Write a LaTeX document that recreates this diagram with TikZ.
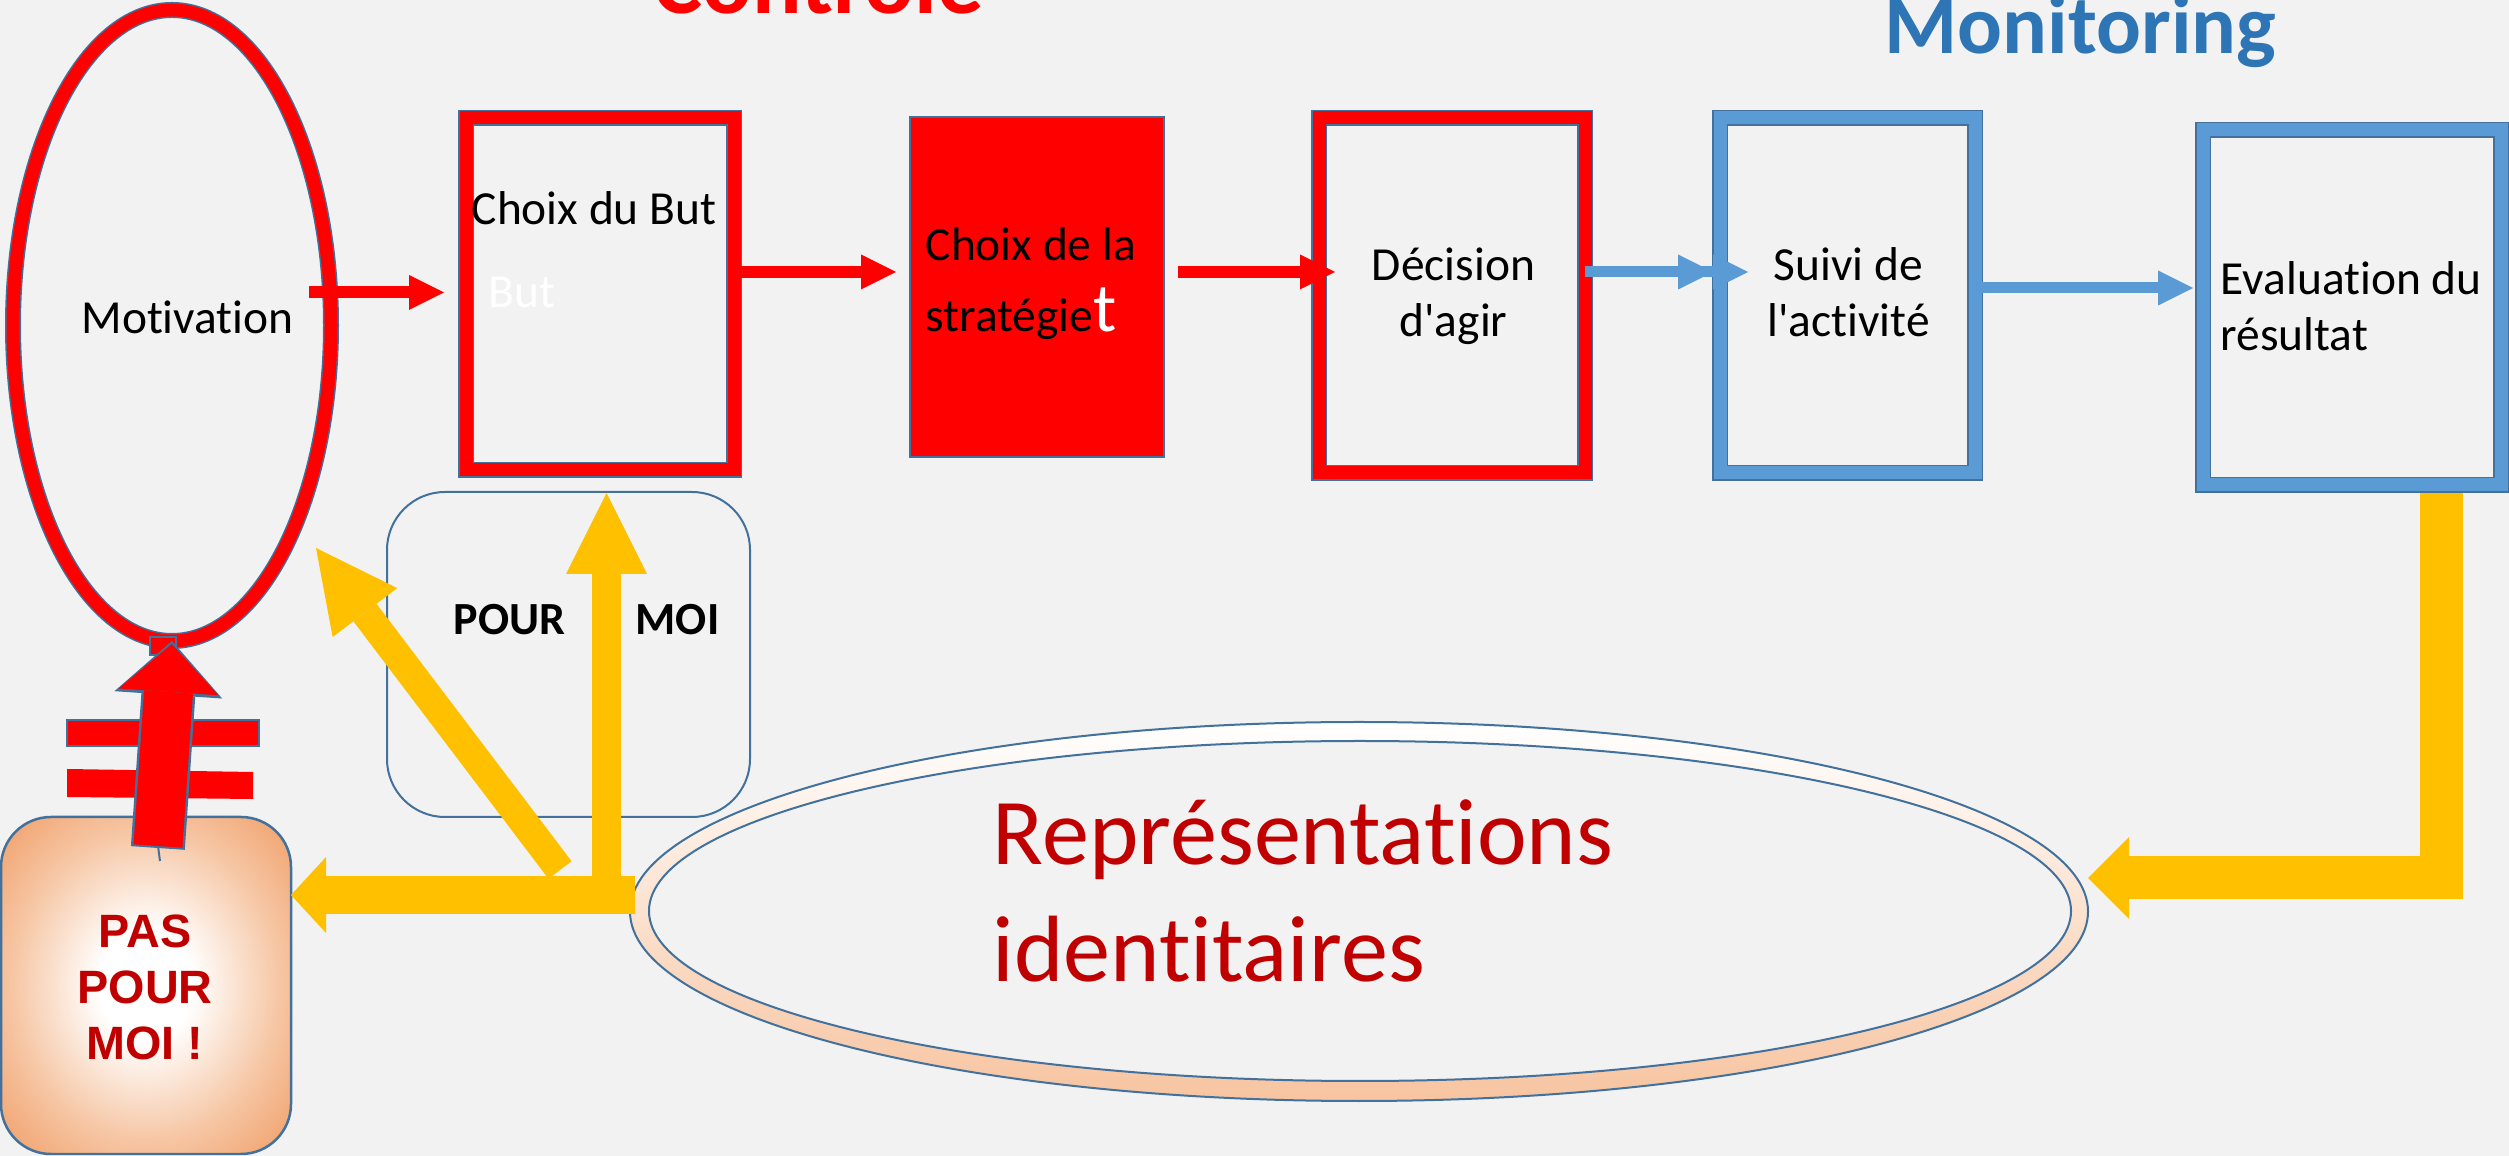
\documentclass[tikz,border=0pt]{standalone}
\usepackage{fontspec}
\setmainfont{Carlito}[Ligatures={TeXOff,NoCommon}]
\newfontfamily\pasfont{Liberation Sans}
\usetikzlibrary{positioning,shapes.geometric,arrows.meta}

\definecolor{bgcol}{HTML}{F2F2F2}
\definecolor{edgeblue}{HTML}{41719C}
\definecolor{bandblue}{HTML}{5B9BD5}
\definecolor{titleblue}{HTML}{2E75B6}
\definecolor{gold}{HTML}{FFC000}
\definecolor{darkred}{HTML}{C00000}
\definecolor{peach}{HTML}{F7C4A0}
\definecolor{peachlight}{HTML}{F6C6A4}
\definecolor{peachmid}{HTML}{F1A26E}
\definecolor{orangeedge}{HTML}{EE8F4F}
\pgfdeclareradialshading{pasglow}{\pgfpoint{0bp}{0bp}}{color(0bp)=(white);
  color(8bp)=(white); color(23bp)=(peachlight); color(34bp)=(peachmid);
  color(43bp)=(orangeedge); color(72bp)=(orangeedge)}

\begin{document}
\begin{tikzpicture}[
  redframe/.style={rectangle,draw=edgeblue,line width=0.015cm,double=red,
    double distance=0.13cm,inner sep=0pt,outer sep=0pt},
  blueframe/.style={redframe,double=bandblue},
  boxtext/.style={inner sep=0pt,font=\fontsize{13.5}{16.2}\selectfont},
  redarrow/.style={draw=red,line width=0.12cm,
    -{Triangle[length=0.35cm,width=0.35cm,line width=0pt]}},
  bluearrow/.style={draw=bandblue,line width=0.11cm,
    -{Triangle[length=0.35cm,width=0.35cm,line width=0pt]}},
  goldarrow/.style={draw=gold,line width=0.29cm,
    -{Triangle[length=0.81cm,width=0.81cm,line width=0pt]}}
]
  \useasboundingbox (0,0) rectangle (25.09,-11.56);
  \fill[bgcol] (0,0) rectangle (25.09,-11.56);

  % boxes
  \node[redframe,ellipse,minimum width=3.18cm,minimum height=6.31cm] (motiv)
    at (1.72,-3.255) {};
  \node[redframe,minimum width=2.68cm,minimum height=3.52cm] (choixbut)
    at (6.00,-2.94) {};
  \node[rectangle,draw=edgeblue,line width=0.02cm,fill=red,inner sep=0pt,
    outer sep=0pt,minimum width=2.54cm,minimum height=3.40cm] (strat)
    at (10.37,-2.87) {};
  \node[redframe,minimum width=2.66cm,minimum height=3.55cm] (decision)
    at (14.52,-2.955) {};
  \node[blueframe,minimum width=2.55cm,minimum height=3.55cm] (suivi)
    at (18.475,-2.955) {};
  \node[blueframe,minimum width=2.98cm,minimum height=3.55cm] (evalres)
    at (23.52,-3.075) {};

  \node[ellipse,draw=edgeblue,line width=0.02cm,top color=white,
    bottom color=peach,inner sep=0pt,outer sep=0pt,minimum width=14.58cm,
    minimum height=3.79cm] (repr) at (13.59,-9.115) {};
  \node[ellipse,draw=edgeblue,line width=0.02cm,fill=bgcol,inner sep=0pt,
    minimum width=14.22cm,minimum height=3.40cm] (reprin) at (13.60,-9.11) {};

  \node[rectangle,rounded corners=0.58cm,draw=edgeblue,line width=0.02cm,
    inner sep=0pt,outer sep=0pt,minimum width=3.63cm,minimum height=3.25cm]
    (pourmoi) at (5.685,-6.545) {};
  \node[rectangle,rounded corners=0.5cm,draw=edgeblue,line width=0.025cm,
    shading=pasglow,inner sep=0pt,outer sep=0pt,
    minimum width=2.90cm,minimum height=3.37cm] (pasmoi) at (1.46,-9.855) {};

  % arrows
  \draw[redarrow] ([shift={(-0.22,0.33)}]motiv.east)
    -- ([shift={(-0.22,0.33)}]motiv.east -| choixbut.west);
  \draw[redarrow,shorten >=0.14cm] ([yshift=0.22cm]choixbut.east)
    -- ([yshift=0.22cm]choixbut.east -| strat.west);
  \draw[redarrow,shorten <=0.14cm,shorten >=-0.16cm] ([yshift=0.15cm]strat.east)
    -- ([yshift=0.15cm]strat.east -| decision.west);
  \draw[bluearrow,shorten >=-0.28cm,
    -{Triangle[length=0.35cm,width=0.35cm,line width=0pt]
      Triangle[length=0.35cm,width=0.35cm,line width=0pt]}]
    ([yshift=0.235cm]decision.east) -- ([yshift=0.235cm]decision.east -| suivi.west);
  \draw[bluearrow,shorten >=0.10cm] ([yshift=0.075cm]suivi.east)
    -- ([yshift=0.075cm]suivi.east -| evalres.west);

  \coordinate (junc) at (6.065,-8.95);
  \coordinate (diagfoot) at (5.60,-8.70);
  \coordinate (diagtip) at (3.16,-5.48);
  \coordinate (evalfoot) at (24.41,-4.93);
  \draw[goldarrow,line width=0.38cm,
    -{Triangle[length=0.35cm,width=0.76cm,line width=0pt]}]
    ([xshift=0.05cm]junc -| repr.west) -- (junc -| pasmoi.east);
  \draw[goldarrow,shorten >=0.23cm] (junc) -- (junc |- choixbut.south);
  \draw[goldarrow] (diagfoot) -- (diagtip);
  \draw[goldarrow,line width=0.43cm,
    -{Triangle[length=0.41cm,width=0.82cm,line width=0pt]}]
    (evalfoot) |- ([yshift=0.335cm]repr.east);

  % not-equal bars and red arrow
  \draw[fill=red,draw=edgeblue,line width=0.02cm] (0.67,-7.20) rectangle (2.59,-7.46);
  \fill[red] (0.67,-7.69) -- (2.53,-7.72) -- (2.53,-7.99) -- (0.67,-7.97) -- cycle;
  \draw[fill=red,draw=edgeblue,line width=0.02cm] (1.50,-6.37) rectangle (1.76,-6.55);
  \coordinate (redfoot) at (1.58,-8.46);
  \draw[edgeblue,line width=0.02cm] (redfoot) -- ++(0.02,-0.15);
  \draw[edgeblue,line width=0.54cm,shorten <=-0.02cm,
    -{Triangle[length=0.54cm,width=1.08cm,line width=0pt]}] (redfoot) -- (motiv.south);
  \draw[red,line width=0.49cm,shorten >=0.03cm,
    -{Triangle[length=0.48cm,width=1.0cm,line width=0pt]}] (redfoot) -- (motiv.south);

  % labels
  \node[anchor=base west,inner sep=0pt,text=red,
    font=\bfseries\fontsize{26.3}{32}\selectfont] (controle) at (6.53,-0.14) {Contrôle};
  \node[anchor=base west,inner sep=0pt,text=titleblue,
    font=\bfseries\fontsize{23.8}{28}\selectfont] (monitoring) at (18.84,-0.54) {Monitoring};
  \node[boxtext,anchor=base] (motivtext) at (1.875,-3.34) {Motivation};
  \node[boxtext,anchor=base west] (choixbuttext) at (4.71,-2.25) {Choix du But};
  \node[boxtext,anchor=base west,text=white] (buttext) at (4.88,-3.08) {But};
  \node[boxtext,anchor=base west,align=left] (strattext) at (9.25,-3.32)
    {Choix de la\\[0.15cm]stratégie{\color{white}\fontsize{19.7}{24}\selectfont t}};
  \node[boxtext,anchor=base,align=center] (decisiontext) at (14.535,-3.37)
    {Décision\\d'agir};
  \node[boxtext,anchor=base,align=center] (suivitext) at (18.485,-3.37)
    {Suivi de\\l'activité};
  \node[boxtext,anchor=base west,align=left] (evaltext) at (22.20,-3.51)
    {Evaluation du\\résultat};
  \node[anchor=base west,align=left,inner sep=0pt,text=darkred,
    font=\fontsize{26.8}{33.3}\selectfont] (reprtext) at (9.92,-9.82)
    {Représentations\\identitaires};
  \node[anchor=base west,inner sep=0pt,font=\bfseries\fontsize{13.1}{16}\selectfont]
    (pourtext) at (4.53,-6.35) {POUR};
  \node[anchor=base west,inner sep=0pt,font=\bfseries\fontsize{13.1}{16}\selectfont]
    (moitext) at (6.35,-6.35) {MOI};
  \node[anchor=base,align=center,inner sep=0pt,text=darkred,
    font=\pasfont\bfseries\fontsize{13.3}{15.9}\selectfont] (pastext) at (1.45,-10.59)
    {PAS\\POUR\\MOI !};
\end{tikzpicture}
\end{document}
